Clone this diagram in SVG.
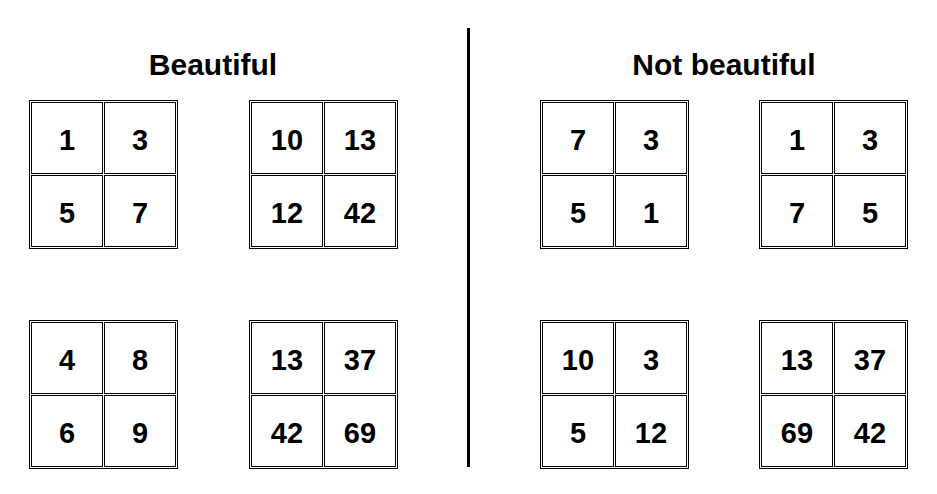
<svg xmlns="http://www.w3.org/2000/svg" xmlns:xlink="http://www.w3.org/1999/xlink" width="937" height="494" viewBox="0 0 937 494">
<style>
.b{fill:none;stroke:#000;stroke-width:1;shape-rendering:crispEdges}
.t{font-family:"Liberation Sans",Arial,sans-serif;font-weight:bold;font-size:30px;fill:#000;text-anchor:middle}
.n{font-family:"Liberation Sans",Arial,sans-serif;font-weight:bold;font-size:29px;fill:#000;text-anchor:middle}
</style>
<defs>
<g id="grid">
<rect class="b" x="0.5" y="0.5" width="148" height="148"/>
<rect class="b" x="2.5" y="2.5" width="71" height="71"/>
<rect class="b" x="75.5" y="2.5" width="71" height="71"/>
<rect class="b" x="2.5" y="75.5" width="71" height="71"/>
<rect class="b" x="75.5" y="75.5" width="71" height="71"/>
</g>
</defs>
<rect width="937" height="494" fill="#fff"/>
<g id="titles">
<text class="t" x="213" y="75">Beautiful</text>
<text class="t" x="724" y="75">Not beautiful</text>
</g>
<g id="divider">
<rect x="467" y="28" width="3" height="439" fill="#000"/>
</g>
<g id="b1" transform="translate(29,100)">
<use xlink:href="#grid" href="#grid"/>
<text class="n" x="38" y="49.5">1</text><text class="n" x="111" y="49.5">3</text>
<text class="n" x="38" y="122.5">5</text><text class="n" x="111" y="122.5">7</text>
</g>
<g id="b2" transform="translate(249,100)">
<use xlink:href="#grid" href="#grid"/>
<text class="n" x="38" y="49.5">10</text><text class="n" x="111" y="49.5">13</text>
<text class="n" x="38" y="122.5">12</text><text class="n" x="111" y="122.5">42</text>
</g>
<g id="b3" transform="translate(29,320)">
<use xlink:href="#grid" href="#grid"/>
<text class="n" x="38" y="49.5">4</text><text class="n" x="111" y="49.5">8</text>
<text class="n" x="38" y="122.5">6</text><text class="n" x="111" y="122.5">9</text>
</g>
<g id="b4" transform="translate(249,320)">
<use xlink:href="#grid" href="#grid"/>
<text class="n" x="38" y="49.5">13</text><text class="n" x="111" y="49.5">37</text>
<text class="n" x="38" y="122.5">42</text><text class="n" x="111" y="122.5">69</text>
</g>
<g id="n1" transform="translate(540,100)">
<use xlink:href="#grid" href="#grid"/>
<text class="n" x="38" y="49.5">7</text><text class="n" x="111" y="49.5">3</text>
<text class="n" x="38" y="122.5">5</text><text class="n" x="111" y="122.5">1</text>
</g>
<g id="n2" transform="translate(759,100)">
<use xlink:href="#grid" href="#grid"/>
<text class="n" x="38" y="49.5">1</text><text class="n" x="111" y="49.5">3</text>
<text class="n" x="38" y="122.5">7</text><text class="n" x="111" y="122.5">5</text>
</g>
<g id="n3" transform="translate(540,320)">
<use xlink:href="#grid" href="#grid"/>
<text class="n" x="38" y="49.5">10</text><text class="n" x="111" y="49.5">3</text>
<text class="n" x="38" y="122.5">5</text><text class="n" x="111" y="122.5">12</text>
</g>
<g id="n4" transform="translate(759,320)">
<use xlink:href="#grid" href="#grid"/>
<text class="n" x="38" y="49.5">13</text><text class="n" x="111" y="49.5">37</text>
<text class="n" x="38" y="122.5">69</text><text class="n" x="111" y="122.5">42</text>
</g>
</svg>
